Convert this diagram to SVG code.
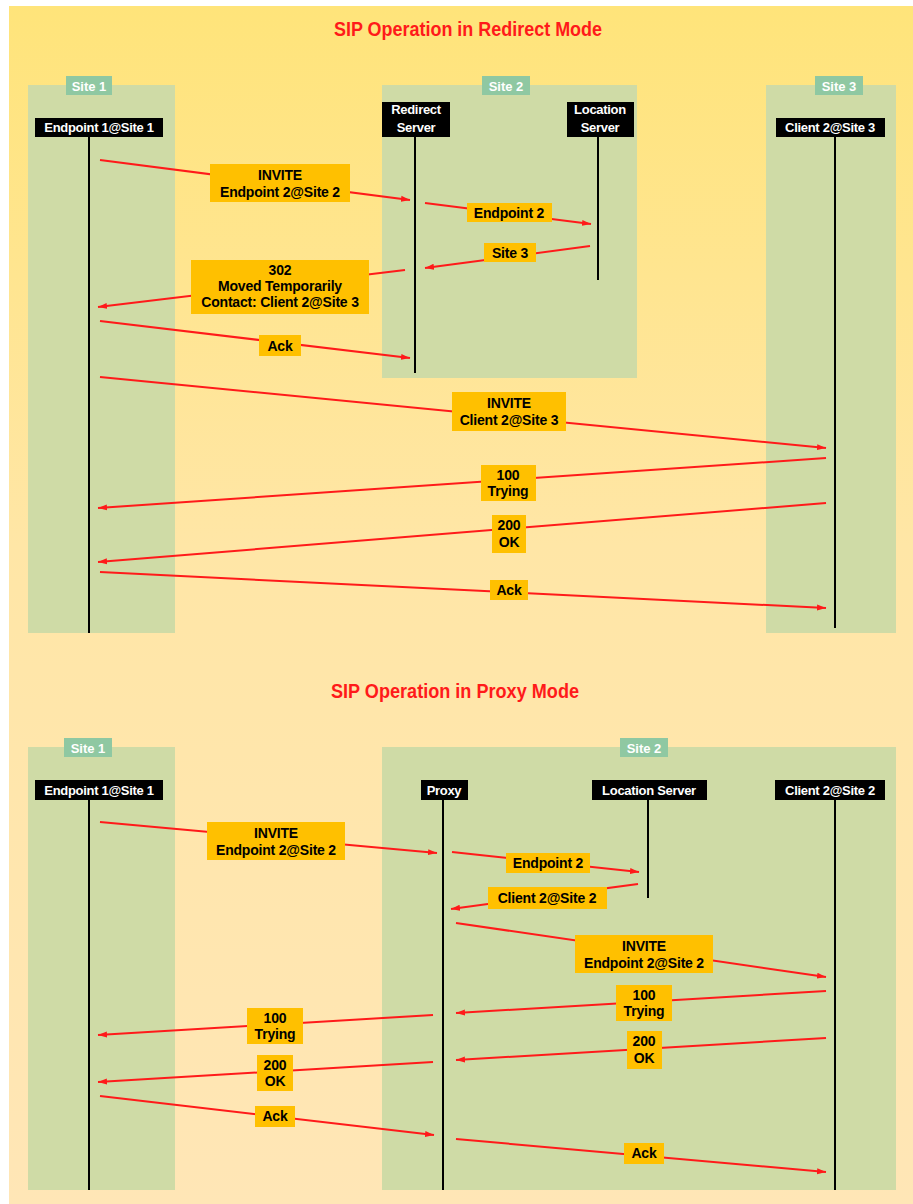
<svg xmlns="http://www.w3.org/2000/svg" width="913" height="1204" viewBox="0 0 913 1204">
<defs>
<linearGradient id="bg" x1="0" y1="0" x2="0" y2="1">
<stop offset="0" stop-color="#FFE47A"/>
<stop offset="0.45" stop-color="#FFE6A6"/>
<stop offset="1" stop-color="#FFE6B6"/>
</linearGradient>
<marker id="ah" markerUnits="userSpaceOnUse" markerWidth="10" markerHeight="8" refX="9" refY="4" orient="auto">
<path d="M0,1 L9,4 L0,7 z" fill="#FF1A1A"/>
</marker>
</defs>
<style>
.site{fill:#CFDBA6}
.slab{fill:#8FC8A2}
.slt{fill:#FFFFFF;font-family:"Liberation Sans",Arial,sans-serif;font-weight:bold;font-size:13px;text-anchor:middle}
.hdr{fill:#000000}
.ht{fill:#FFFFFF;font-family:"Liberation Sans",Arial,sans-serif;font-weight:bold;font-size:13px;text-anchor:middle;letter-spacing:-0.3px}
.life{stroke:#000000;stroke-width:2;fill:none}
.msg{stroke:#FF1A1A;stroke-width:2;fill:none;marker-end:url(#ah)}
.lab{fill:#FFC000}
.lt{fill:#000000;font-family:"Liberation Sans",Arial,sans-serif;font-weight:bold;font-size:14px;text-anchor:middle;letter-spacing:-0.2px}
.title{fill:#FF1A1A;font-family:"Liberation Sans",Arial,sans-serif;font-weight:bold;font-size:20px;text-anchor:middle}
</style>
<rect x="0" y="0" width="913" height="1204" fill="#FFFFFF"/>
<rect x="9" y="6" width="904" height="1198" fill="url(#bg)"/>

<text class="title" x="468" y="36" textLength="268" lengthAdjust="spacingAndGlyphs">SIP Operation in Redirect Mode</text>
<text class="title" x="455" y="698" textLength="248" lengthAdjust="spacingAndGlyphs">SIP Operation in Proxy Mode</text>

<!-- Top diagram sites -->
<g id="r-site1"><rect class="site" x="28" y="85" width="147" height="548"/><rect class="slab" x="66" y="76" width="46" height="19"/><text class="slt" x="89" y="91">Site 1</text></g>
<g id="r-site2"><rect class="site" x="382" y="85" width="255" height="293"/><rect class="slab" x="482" y="76" width="48" height="19"/><text class="slt" x="506" y="91">Site 2</text></g>
<g id="r-site3"><rect class="site" x="766" y="85" width="130" height="548"/><rect class="slab" x="815" y="76" width="48" height="19"/><text class="slt" x="839" y="91">Site 3</text></g>

<g id="r-ep1"><rect class="hdr" x="35" y="118" width="128" height="19"/><text class="ht" x="99" y="132">Endpoint 1@Site 1</text><line class="life" x1="89" y1="137" x2="89" y2="633"/></g>
<g id="r-redirect"><rect class="hdr" x="382" y="102" width="68" height="35"/><text class="ht" x="416" y="114">Redirect</text><text class="ht" x="416" y="132">Server</text><line class="life" x1="415" y1="137" x2="415" y2="373"/></g>
<g id="r-location"><rect class="hdr" x="567" y="102" width="67" height="35"/><text class="ht" x="600" y="114">Location</text><text class="ht" x="600" y="132">Server</text><line class="life" x1="598" y1="137" x2="598" y2="280"/></g>
<g id="r-client"><rect class="hdr" x="776" y="118" width="109" height="19"/><text class="ht" x="830" y="132">Client 2@Site 3</text><line class="life" x1="835" y1="137" x2="835" y2="628"/></g>

<!-- Bottom diagram sites -->
<g id="p-site1"><rect class="site" x="28" y="747" width="147" height="443"/><rect class="slab" x="64" y="738" width="48" height="19"/><text class="slt" x="88" y="753">Site 1</text></g>
<g id="p-site2"><rect class="site" x="382" y="747" width="514" height="443"/><rect class="slab" x="620" y="738" width="48" height="19"/><text class="slt" x="644" y="753">Site 2</text></g>

<g id="p-ep1"><rect class="hdr" x="35" y="780" width="128" height="20"/><text class="ht" x="99" y="795">Endpoint 1@Site 1</text><line class="life" x1="89" y1="800" x2="89" y2="1190"/></g>
<g id="p-proxy"><rect class="hdr" x="421" y="780" width="47" height="20"/><text class="ht" x="444" y="795">Proxy</text><line class="life" x1="443" y1="800" x2="443" y2="1190"/></g>
<g id="p-location"><rect class="hdr" x="592" y="780" width="115" height="20"/><text class="ht" x="649" y="795">Location Server</text><line class="life" x1="648" y1="800" x2="648" y2="898"/></g>
<g id="p-client"><rect class="hdr" x="775" y="780" width="110" height="20"/><text class="ht" x="830" y="795">Client 2@Site 2</text><line class="life" x1="835" y1="800" x2="835" y2="1190"/></g>

<g id="connectors">
<line class="msg" x1="100" y1="160" x2="410" y2="200"/>
<line class="msg" x1="425" y1="203" x2="591" y2="224"/>
<line class="msg" x1="590" y1="246" x2="425" y2="268"/>
<line class="msg" x1="405" y1="270" x2="98" y2="307"/>
<line class="msg" x1="100" y1="321" x2="410" y2="358"/>
<line class="msg" x1="100" y1="377" x2="826" y2="448"/>
<line class="msg" x1="826" y1="458" x2="98" y2="508"/>
<line class="msg" x1="826" y1="503" x2="98" y2="562"/>
<line class="msg" x1="100" y1="572" x2="826" y2="608"/>

<line class="msg" x1="100" y1="822" x2="437" y2="853"/>
<line class="msg" x1="452" y1="852" x2="639" y2="872"/>
<line class="msg" x1="638" y1="884" x2="451" y2="909"/>
<line class="msg" x1="456" y1="923" x2="826" y2="977"/>
<line class="msg" x1="826" y1="991" x2="456" y2="1013"/>
<line class="msg" x1="433" y1="1015" x2="98" y2="1035"/>
<line class="msg" x1="826" y1="1038" x2="456" y2="1060"/>
<line class="msg" x1="433" y1="1062" x2="98" y2="1082"/>
<line class="msg" x1="100" y1="1096" x2="434" y2="1135"/>
<line class="msg" x1="456" y1="1139" x2="826" y2="1172"/>
</g>

<g id="labels">
<g id="l1"><rect class="lab" x="210" y="164" width="140" height="38"/><text class="lt" x="280" y="180">INVITE</text><text class="lt" x="280" y="197">Endpoint 2@Site 2</text></g>
<g id="l2"><rect class="lab" x="467" y="203" width="85" height="19"/><text class="lt" x="509" y="218">Endpoint 2</text></g>
<g id="l3"><rect class="lab" x="484" y="243" width="52" height="19"/><text class="lt" x="510" y="258">Site 3</text></g>
<g id="l4"><rect class="lab" x="191" y="260" width="178" height="54"/><text class="lt" x="280" y="275">302</text><text class="lt" x="280" y="291">Moved Temporarily</text><text class="lt" x="280" y="307">Contact: Client 2@Site 3</text></g>
<g id="l5"><rect class="lab" x="259" y="335" width="42" height="21"/><text class="lt" x="280" y="351">Ack</text></g>
<g id="l6"><rect class="lab" x="452" y="392" width="114" height="39"/><text class="lt" x="509" y="408">INVITE</text><text class="lt" x="509" y="425">Client 2@Site 3</text></g>
<g id="l7"><rect class="lab" x="481" y="465" width="55" height="36"/><text class="lt" x="508" y="480">100</text><text class="lt" x="508" y="496">Trying</text></g>
<g id="l8"><rect class="lab" x="492" y="515" width="34" height="38"/><text class="lt" x="509" y="530">200</text><text class="lt" x="509" y="547">OK</text></g>
<g id="l9"><rect class="lab" x="490" y="580" width="38" height="20"/><text class="lt" x="509" y="595">Ack</text></g>

<g id="m1"><rect class="lab" x="207" y="822" width="138" height="38"/><text class="lt" x="276" y="838">INVITE</text><text class="lt" x="276" y="855">Endpoint 2@Site 2</text></g>
<g id="m2"><rect class="lab" x="506" y="853" width="84" height="20"/><text class="lt" x="548" y="868">Endpoint 2</text></g>
<g id="m3"><rect class="lab" x="488" y="887" width="119" height="22"/><text class="lt" x="547" y="903">Client 2@Site 2</text></g>
<g id="m4"><rect class="lab" x="575" y="935" width="138" height="38"/><text class="lt" x="644" y="951">INVITE</text><text class="lt" x="644" y="968">Endpoint 2@Site 2</text></g>
<g id="m5"><rect class="lab" x="616" y="985" width="56" height="36"/><text class="lt" x="644" y="1000">100</text><text class="lt" x="644" y="1016">Trying</text></g>
<g id="m6"><rect class="lab" x="247" y="1008" width="56" height="36"/><text class="lt" x="275" y="1023">100</text><text class="lt" x="275" y="1039">Trying</text></g>
<g id="m7"><rect class="lab" x="627" y="1031" width="35" height="38"/><text class="lt" x="644" y="1046">200</text><text class="lt" x="644" y="1063">OK</text></g>
<g id="m8"><rect class="lab" x="257" y="1055" width="36" height="36"/><text class="lt" x="275" y="1070">200</text><text class="lt" x="275" y="1086">OK</text></g>
<g id="m9"><rect class="lab" x="255" y="1106" width="40" height="21"/><text class="lt" x="275" y="1121">Ack</text></g>
<g id="m10"><rect class="lab" x="624" y="1143" width="40" height="21"/><text class="lt" x="644" y="1158">Ack</text></g>
</g>
</svg>
